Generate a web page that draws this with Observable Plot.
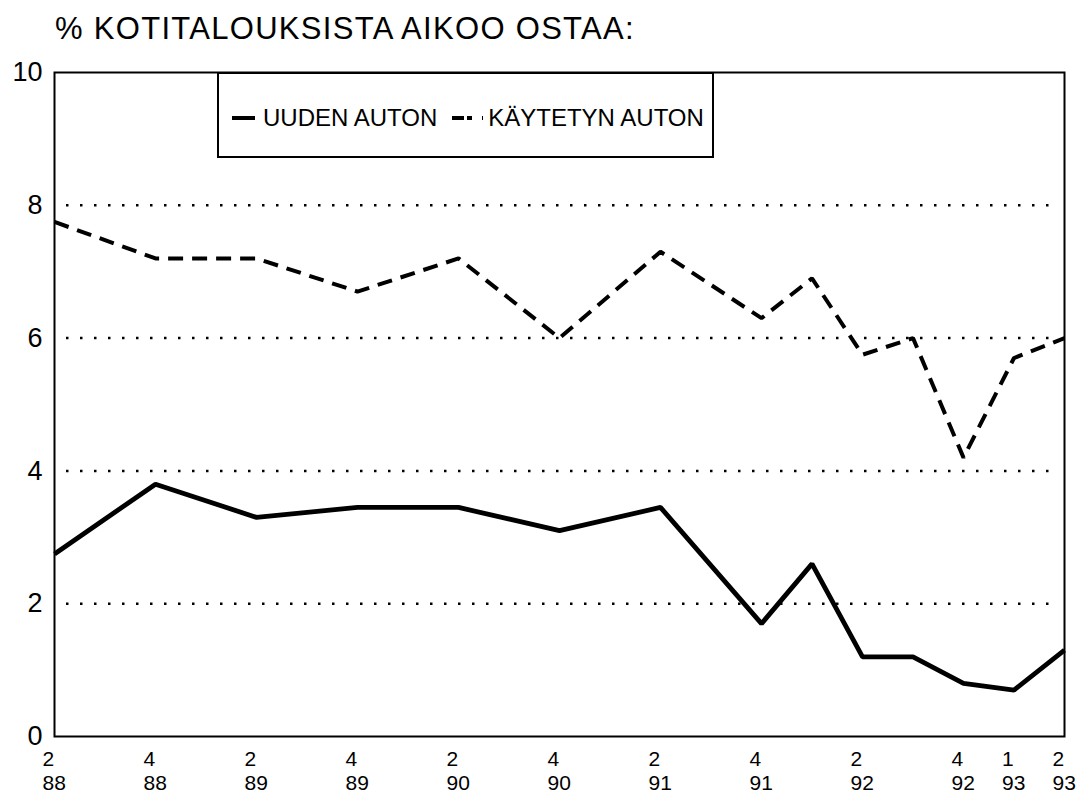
<!DOCTYPE html>
<html>
<head>
<meta charset="utf-8">
<script src="https://cdn.jsdelivr.net/npm/d3@7"></script>
<script src="https://cdn.jsdelivr.net/npm/@observablehq/plot@0.6"></script>
<style>
  html, body { margin: 0; padding: 0; background: #fff; }
  body { font-family: "Liberation Sans", Arial, Helvetica, sans-serif; color: #000; }
  #wrap { position: relative; width: 1082px; height: 795px; overflow: hidden; }
  #title { position: absolute; left: 55px; top: 13px; font-size: 31px; line-height: 31px; letter-spacing: 1.3px; white-space: nowrap; }
  #legend { position: absolute; left: 217px; top: 72px; width: 480px; height: 76px; border: 2px solid #000; background: #fff;
            display: flex; align-items: center; padding-left: 13px; padding-top: 6px; box-sizing: content-box; font-size: 24px; white-space: nowrap; }
  #legend svg { display: block; }
</style>
</head>
<body>
<div id="wrap">
  <div id="chart"></div>
  <div id="title">% KOTITALOUKSISTA AIKOO OSTAA:</div>
  <div id="legend"></div>
</div>
<script>
// ---- data ----
const periods = ["2/88","4/88","2/89","4/89","2/90","4/90","2/91","4/91","1/92","2/92","3/92","4/92","1/93","2/93"];
const uudenAuton = [2.75, 3.8, 3.3, 3.45, 3.45, 3.1, 3.45, 1.7, 2.6, 1.2, 1.2, 0.8, 0.7, 1.3];
const kaytetynAuton = [7.75, 7.2, 7.2, 6.7, 7.2, 6.0, 7.3, 6.3, 6.9, 5.75, 6.0, 4.2, 5.7, 6.0];
const tickPeriods = ["2/88","4/88","2/89","4/89","2/90","4/90","2/91","4/91","2/92","4/92","1/93","2/93"];
const yTicks = [0, 2, 4, 6, 8, 10];
const gridValues = [2, 4, 6, 8];
const seriesNames = ["UUDEN AUTON", "KÄYTETYN AUTON"];

// quarter/year -> continuous quarter index
const periodIndex = p => { const [q, y] = p.split("/").map(Number); return (y - 88) * 4 + (q - 2); };
const tickLabel = p => p.split("/").join("\n");

const rows = periods.map((p, i) => ({t: periodIndex(p), uuden: uudenAuton[i], kaytetyn: kaytetynAuton[i]}));

const chart = Plot.plot({
  width: 1082,
  height: 795,
  marginLeft: 54,
  marginRight: 18,
  marginTop: 72,
  marginBottom: 59,
  style: {fontFamily: '"Liberation Sans", Arial, Helvetica, sans-serif', color: "#000", background: "#fff", overflow: "visible"},
  x: {domain: d3.extent(periods, periodIndex), axis: null},
  y: {domain: [yTicks[0], yTicks[yTicks.length - 1]]},
  marks: [
    Plot.gridY(gridValues, {stroke: "#000", strokeOpacity: 1, strokeWidth: 2.5, strokeDasharray: "2.5,11.5", insetLeft: 12, insetRight: 6}),
    Plot.line(rows, {x: "t", y: "kaytetyn", stroke: "#000", strokeWidth: 4, strokeDasharray: "15,9", strokeLinecap: "butt", strokeLinejoin: "miter"}),
    Plot.line(rows, {x: "t", y: "uuden", stroke: "#000", strokeWidth: 4.8, strokeLinecap: "butt", strokeLinejoin: "miter"}),
    Plot.frame({stroke: "#000", strokeWidth: 2}),
    Plot.axisY({ticks: yTicks, tickSize: 0, tickPadding: 12, fontSize: 27, label: null}),
    Plot.text(tickPeriods, {x: periodIndex, text: tickLabel, frameAnchor: "bottom", lineAnchor: "top", dy: 13,
                            textAnchor: "start", dx: -12, fontSize: 21, lineHeight: 1.12, fill: "#000"})
  ]
});
document.getElementById("chart").appendChild(chart);

// legend
const legend = document.getElementById("legend");
legend.innerHTML = `
  <svg width="23" height="8"><line x1="0" x2="23" y1="4" y2="4" stroke="#000" stroke-width="4"/></svg>
  <span style="margin-left:8px">${seriesNames[0]}</span>
  <svg style="margin-left:15px" width="31" height="8"><line x1="0" x2="31" y1="4" y2="4" stroke="#000" stroke-width="4" stroke-dasharray="12,3,5,10,3,0"/></svg>
  <span style="margin-left:5px">${seriesNames[1]}</span>`;
</script>
</body>
</html>
